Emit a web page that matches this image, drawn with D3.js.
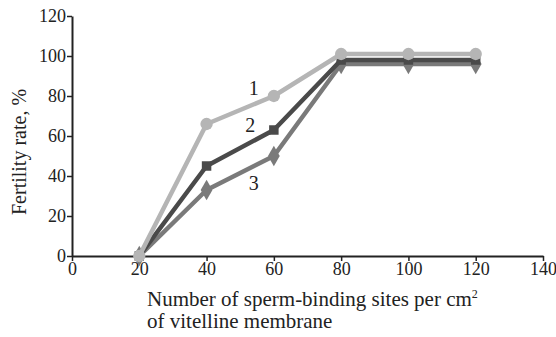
<!DOCTYPE html>
<html>
<head>
<meta charset="utf-8">
<script src="https://cdn.jsdelivr.net/npm/d3@7"></script>
<style>
  body { margin: 0; background: #fff; }
  svg { display: block; }
</style>
</head>
<body>
<svg id="chart" width="556" height="337"></svg>
<script>
const xValues = [20, 40, 60, 80, 100, 120];
const series1 = [0, 66, 80, 101, 101, 101];
const series2 = [0, 45, 63, 98, 98, 98];
const series3 = [0, 33, 50, 96, 96, 96];
const xTicks = [0, 20, 40, 60, 80, 100, 120, 140];
const yTicks = [0, 20, 40, 60, 80, 100, 120];
const curveLabels = [
  { text: '1', x: 54, y: 80.5 },
  { text: '2', x: 53, y: 62 },
  { text: '3', x: 54, y: 33 }
];

const FONT = '"Liberation Serif", "Times New Roman", serif';
const svg = d3.select('#chart').attr('font-family', FONT);
const margin = { left: 72, right: 13, top: 16, bottom: 81 };
const width = 556, height = 337;

const x = d3.scaleLinear().domain([0, 140]).range([margin.left, width - margin.right]);
const y = d3.scaleLinear().domain([0, 120]).range([height - margin.bottom, margin.top]);

function styleAxis(g) {
  g.attr('font-family', FONT).attr('font-size', 18);
  g.select('.domain').attr('stroke', '#222').attr('stroke-width', 2);
  g.selectAll('.tick line').attr('stroke', '#222').attr('stroke-width', 1.5);
  g.selectAll('.tick text').attr('fill', '#222');
}

svg.append('g')
  .attr('transform', `translate(0,${y(0)})`)
  .call(d3.axisBottom(x).tickValues(xTicks).tickSize(5).tickSizeOuter(0).tickPadding(1))
  .call(styleAxis);

svg.append('g')
  .attr('transform', `translate(${x(0)},0)`)
  .call(d3.axisLeft(y).tickValues(yTicks).tickSize(5).tickSizeOuter(0).tickPadding(1))
  .call(styleAxis);

const line = d3.line().x(d => x(d[0])).y(d => y(d[1]));

const seriesList = [
  { vals: series3, color: '#7a7a7a', shape: d3.symbolDiamond, size: 120 },
  { vals: series2, color: '#4a4a4a', shape: d3.symbolSquare, size: 90 },
  { vals: series1, color: '#b5b5b5', shape: d3.symbolCircle, size: 120 }
];

seriesList.forEach(s => {
  const pts = xValues.map((v, i) => [v, s.vals[i]]);
  svg.append('path')
    .datum(pts)
    .attr('fill', 'none')
    .attr('stroke', s.color)
    .attr('stroke-width', 4.5)
    .attr('stroke-linejoin', 'round')
    .attr('d', line);
  svg.append('g').selectAll('path')
    .data(pts)
    .enter()
    .append('path')
    .attr('transform', d => `translate(${x(d[0])},${y(d[1])})`)
    .attr('d', d3.symbol().type(s.shape).size(s.size))
    .attr('fill', s.color);
});

svg.append('g').selectAll('text')
  .data(curveLabels)
  .enter()
  .append('text')
  .attr('x', d => x(d.x))
  .attr('y', d => y(d.y))
  .attr('text-anchor', 'middle')
  .attr('font-size', 20)
  .attr('fill', '#222')
  .text(d => d.text);

svg.append('text')
  .attr('transform', 'translate(26,152) rotate(-90)')
  .attr('text-anchor', 'middle')
  .attr('font-size', 20)
  .attr('fill', '#222')
  .text('Fertility rate, %');

const xl = svg.append('text')
  .attr('x', 147)
  .attr('y', 306)
  .attr('font-size', 21)
  .attr('fill', '#222');
xl.append('tspan').text('Number of sperm-binding sites per cm');
xl.append('tspan').attr('dy', -8).attr('font-size', 12).text('2');
svg.append('text')
  .attr('x', 147)
  .attr('y', 328)
  .attr('font-size', 21)
  .attr('fill', '#222')
  .text('of vitelline membrane');
</script>
</body>
</html>
